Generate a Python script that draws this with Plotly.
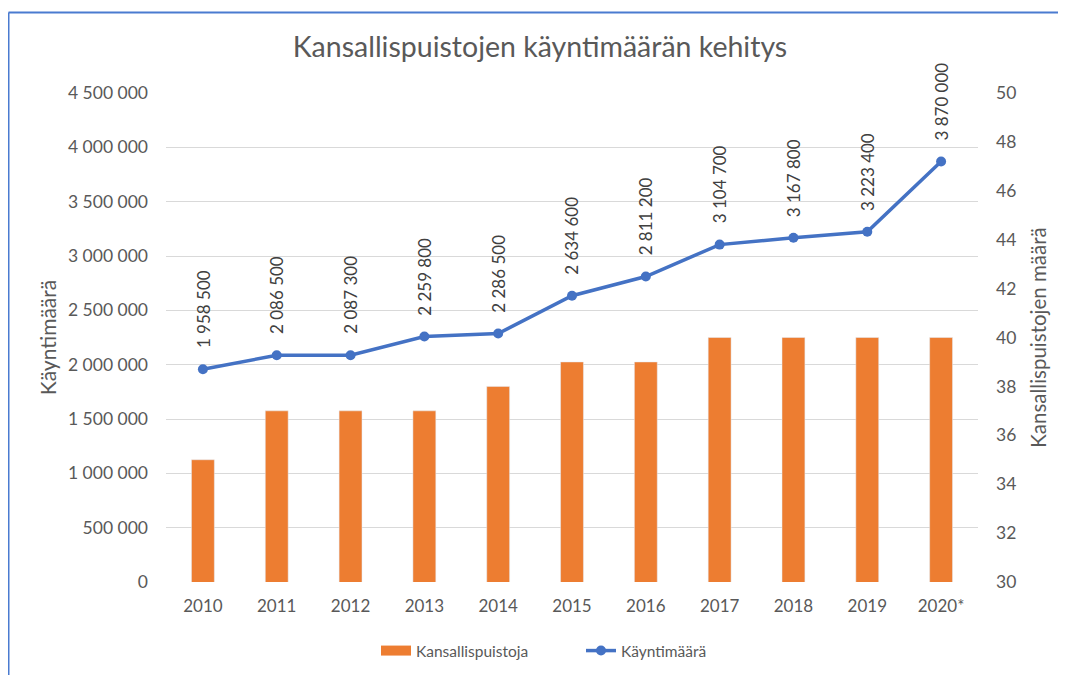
import plotly.graph_objects as go

years = ["2010", "2011", "2012", "2013", "2014", "2015", "2016", "2017", "2018", "2019", "2020*"]
parks = [35, 37, 37, 37, 38, 39, 39, 40, 40, 40, 40]
visits = [1958500, 2086500, 2087300, 2259800, 2286500, 2634600, 2811200, 3104700, 3167800, 3223400, 3870000]

ORANGE = "#ED7D31"
BLUE = "#4472C4"
GREY = "#595959"
FONT = "Lato"

# page body has an 8px margin; work in figure coordinates
OFF = 8
W, H = 1066 - OFF, 675 - OFF
ML, MT = 166 - OFF, 93 - OFF
MR = W - (978 - OFF)
MB = H - (582 - OFF)
PW, PH = W - ML - MR, H - MT - MB


def fmt(v):
    return f"{v:,}".replace(",", " ")


def px_to_paper_x(px):
    return (px - OFF - ML) / PW


def px_to_paper_y(py):
    return (H - MB - (py - OFF)) / PH


fig = go.Figure()
fig.add_trace(go.Bar(x=years, y=parks, marker_color=ORANGE, yaxis="y",
                     name="Kansallispuistoja", showlegend=False))
fig.add_trace(go.Scatter(x=[years[0]], y=[None], mode="lines", name="Kansallispuistoja",
                         line=dict(color=ORANGE, width=10), yaxis="y"))
fig.add_trace(go.Scatter(x=years, y=visits, mode="lines+markers", yaxis="y2",
                         name="Käyntimäärä", line=dict(color=BLUE, width=3.5),
                         marker=dict(size=10, color=BLUE)))

annotations = []
for i, v in enumerate(visits):
    # category axis: annotation x is the category's serial index
    annotations.append(dict(x=i, y=v, xref="x", yref="y2", text=fmt(v), textangle=-90,
                            showarrow=False, yanchor="bottom", xanchor="center", yshift=19,
                            font=dict(family=FONT, size=17, color="#404040")))

# decorative frame (border of the original chart image)
shapes = [
    dict(type="line", xref="paper", yref="paper", x0=px_to_paper_x(8.5), x1=px_to_paper_x(1090),
         y0=px_to_paper_y(12.5), y1=px_to_paper_y(12.5), line=dict(color="#4A7BD0", width=2)),
    dict(type="line", xref="paper", yref="paper", x0=px_to_paper_x(8.5), x1=px_to_paper_x(8.5),
         y0=px_to_paper_y(12.5), y1=px_to_paper_y(700), line=dict(color="#4A7BD0", width=2)),
]

fig.update_layout(
    width=W, height=H,
    margin=dict(l=ML, r=MR, t=MT, b=MB, autoexpand=False),
    paper_bgcolor="white", plot_bgcolor="white",
    separators=", ",
    font=dict(family=FONT, size=17, color=GREY),
    title=dict(text="Kansallispuistojen käyntimäärän kehitys", x=(540 - OFF) / W, xanchor="center",
               y=1 - (47 - OFF) / H, yanchor="middle", font=dict(family=FONT, size=28.5, color=GREY)),
    bargap=0.69,
    xaxis=dict(type="category", range=[-0.5, len(years) - 0.5], showgrid=False, showline=False,
               ticks="", automargin=False,
               ticklabelstandoff=12, tickfont=dict(size=17, color=GREY)),
    yaxis=dict(side="right", range=[30, 50], dtick=2, showgrid=False, zeroline=False,
               ticklabelstandoff=17, automargin=False,
               title=dict(text="Kansallispuistojen määrä", standoff=16,
                          font=dict(size=20.5, color=GREY)),
               tickfont=dict(size=17.5, color=GREY)),
    yaxis2=dict(side="left", overlaying="y", range=[0, 4500000], dtick=500000,
                tickformat=",d", showgrid=True, gridcolor="#D9D9D9", gridwidth=1.3,
                zeroline=False, ticklabelstandoff=17, automargin=False,
                title=dict(text="Käyntimäärä", standoff=5, font=dict(size=21, color=GREY)),
                tickfont=dict(size=17.5, color=GREY)),
    legend=dict(orientation="h", x=px_to_paper_x(376), xanchor="left",
                y=px_to_paper_y(651), yanchor="middle", entrywidth=160, entrywidthmode="pixels",
                font=dict(size=15.5, color=GREY), traceorder="normal"),
    annotations=annotations,
    shapes=shapes,
)

fig.write_html("out.html")
